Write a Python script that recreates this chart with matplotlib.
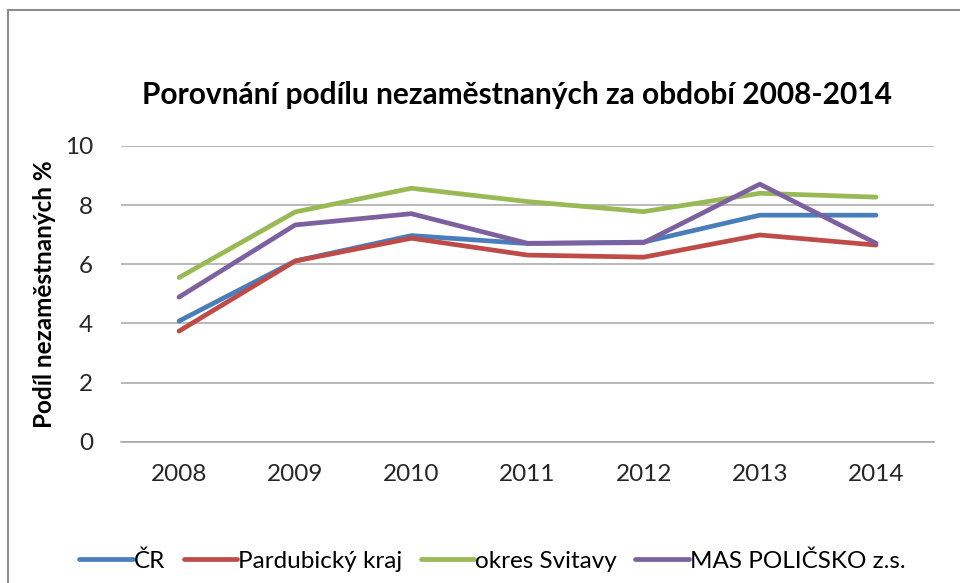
import matplotlib

matplotlib.use("Agg")
import matplotlib.pyplot as plt
from matplotlib.patches import Rectangle

plt.rcParams["font.family"] = ["Lato", "DejaVu Sans"]

years = ["2008", "2009", "2010", "2011", "2012", "2013", "2014"]
cr = [4.08, 6.11, 6.97, 6.70, 6.75, 7.66, 7.66]
pardubicky = [3.74, 6.11, 6.88, 6.31, 6.24, 6.99, 6.65]
svitavy = [5.55, 7.77, 8.57, 8.12, 7.78, 8.40, 8.27]
policsko = [4.89, 7.33, 7.71, 6.71, 6.73, 8.71, 6.71]

series = [
    ("ČR", cr, "#4A7EBB"),
    ("Pardubický kraj", pardubicky, "#BE4B48"),
    ("okres Svitavy", svitavy, "#98B954"),
    ("MAS POLIČSKO z.s.", policsko, "#7D60A0"),
]

fig = plt.figure(figsize=(9.6, 5.83), dpi=100)
ax = fig.add_axes([0.126, 0.2424, 0.847, 0.5072])

x = list(range(len(years)))
for label, values, color in series:
    ax.plot(x, values, color=color, linewidth=3.4, label=label, solid_capstyle="round")

ax.set_xlim(-0.5, len(years) - 0.5)
ax.set_ylim(0, 10)
ax.set_yticks(range(0, 11, 2))
ax.set_xticks(x)
ax.set_xticklabels(years)
ax.grid(axis="y", color="#A6A6A6", linewidth=1.1)
ax.set_axisbelow(True)
for side in ("top", "right", "left"):
    ax.spines[side].set_visible(False)
ax.spines["bottom"].set_color("#A6A6A6")
ax.spines["bottom"].set_linewidth(1.1)
ax.tick_params(axis="both", length=0, labelsize=17.5, colors="#262626")
ax.tick_params(axis="y", pad=20)
ax.tick_params(axis="x", pad=16)

ax.set_ylabel("Podíl nezaměstnaných %", fontsize=17.5, fontweight="bold")
ax.yaxis.set_label_coords(-0.08, 0.5)
fig.text(0.539, 0.837, "Porovnání podílu nezaměstnaných za období 2008-2014",
         ha="center", va="center", fontsize=21.5, fontweight="bold")

fig.legend(loc="center", bbox_to_anchor=(0.513, 0.038), ncol=4, frameon=False,
           fontsize=17.5, handlelength=2.2, handletextpad=0.05, columnspacing=0.75)

fig.patches.append(Rectangle((8 / 960, -0.05), 1.0, 1 - 10 / 583 + 0.05,
                             transform=fig.transFigure, fill=False,
                             edgecolor="#8C8C8C", linewidth=1.5))

fig.savefig("out.png", dpi=100)
